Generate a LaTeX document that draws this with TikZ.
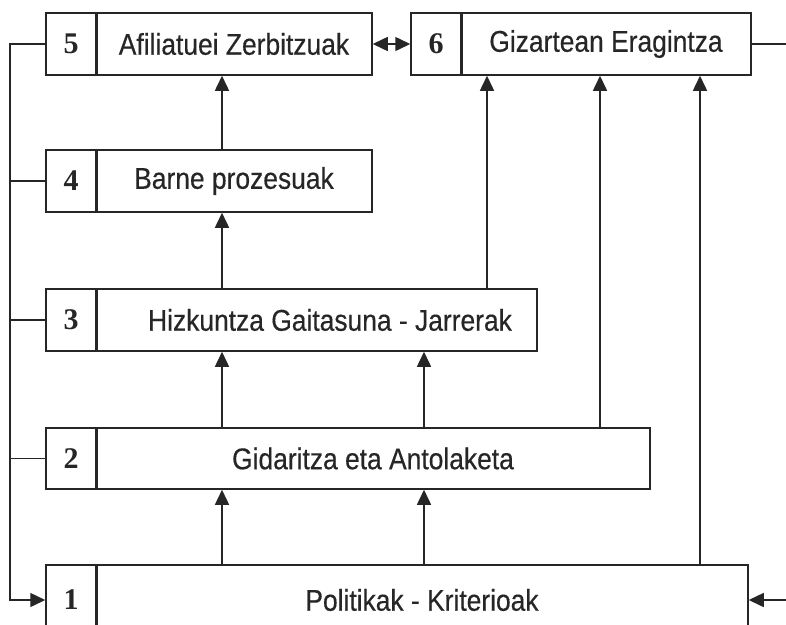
\documentclass[tikz,border=0pt]{standalone}
\usepackage{fontspec}
\setmainfont[FakeStretch=0.88,FakeBold=0.4]{Liberation Sans}
\newfontfamily\numfont{Liberation Serif}
\usetikzlibrary{arrows.meta}
\definecolor{ink}{HTML}{262626}
\begin{document}
\begin{tikzpicture}[x=1pt,y=-1pt,
  line width=1.5pt, draw=ink,
  numcell/.style={draw=ink, minimum width=50pt, minimum height=62pt, inner sep=0pt,
    font=\numfont\bfseries\fontsize{30}{30}\selectfont, text=ink},
  labcell/.style={draw=ink, minimum height=62pt, inner sep=0pt,
    font=\fontsize{30}{30}\selectfont, text=ink},
  arr/.style={-{Triangle[length=15pt,width=14pt]}, line width=1.5pt, draw=ink},
  dbl/.style={{Triangle[length=15pt,width=14pt]}-{Triangle[length=15pt,width=14pt]}, line width=1.5pt, draw=ink},
  link/.style={line width=1.5pt, draw=ink}]
\useasboundingbox (0,0) rectangle (786,624);

% rows of numbered boxes
\node[labcell, minimum width=276pt] (lab5) at (234,44) {Afiliatuei Zerbitzuak};
\node[numcell] (num5) at (71,44) {5};
\node[labcell, minimum width=290pt] (lab6) at (606,44) {Gizartean Eragintza};
\node[numcell] (num6) at (436,44) {6};
\node[labcell, minimum width=276pt] (lab4) at (234,181) {Barne prozesuak};
\node[numcell] (num4) at (71,181) {4};
\node[labcell, minimum width=441pt] (lab3) at (316.5,320) {};
\node[font=\fontsize{30}{30}\selectfont, text=ink] (txt3) at (330,320) {Hizkuntza Gaitasuna - Jarrerak};
\node[numcell] (num3) at (71,320) {3};
\node[labcell, minimum width=554pt, minimum height=61pt] (lab2) at (373,458.5) {Gidaritza eta Antolaketa};
\node[numcell, minimum height=61pt] (num2) at (71,458.5) {2};
\node[labcell, minimum width=652pt, minimum height=70pt] (lab1) at (422,600) {Politikak - Kriterioak};
\node[numcell, minimum height=70pt] (num1) at (71,600) {1};

% thicker dividers between number and label
\foreach \n in {1,...,6}{
  \draw[line width=2.4pt, draw=ink] (num\n.north east) -- (num\n.south east);
}

% columns of the upward arrows
\coordinate (ca) at (222,0);
\coordinate (cb) at (424,0);
\coordinate (cc) at (487,0);
\coordinate (cd) at (600,0);
\coordinate (ce) at (700,0);
\coordinate (rail) at (10,0);
\coordinate (rrail) at (800,0);

\draw[arr] (lab4.north -| ca) -- (lab5.south -| ca);
\draw[arr] (lab3.north -| ca) -- (lab4.south -| ca);
\draw[arr] (lab2.north -| ca) -- (lab3.south -| ca);
\draw[arr] (lab2.north -| cb) -- (lab3.south -| cb);
\draw[arr] (lab1.north -| ca) -- (lab2.south -| ca);
\draw[arr] (lab1.north -| cb) -- (lab2.south -| cb);
\draw[arr] (lab3.north -| cc) -- (lab6.south -| cc);
\draw[arr] (lab2.north -| cd) -- (lab6.south -| cd);
\draw[arr] (lab1.north -| ce) -- (lab6.south -| ce);

% two-way link between 5 and 6
\draw[dbl] (lab5.east) -- (num6.west);

% feedback rail on the left
\draw[arr] (num5.west) -- (num5.west -| rail) |- (num1.west);
\draw[link] (num4.west) -- (num4.west -| rail);
\draw[link] (num3.west) -- (num3.west -| rail);
\draw[link] (num2.west) -- (num2.west -| rail);

% feedback rail on the right
\draw[arr] (lab6.east) -- (lab6.east -| rrail) |- (lab1.east);
\end{tikzpicture}
\end{document}
